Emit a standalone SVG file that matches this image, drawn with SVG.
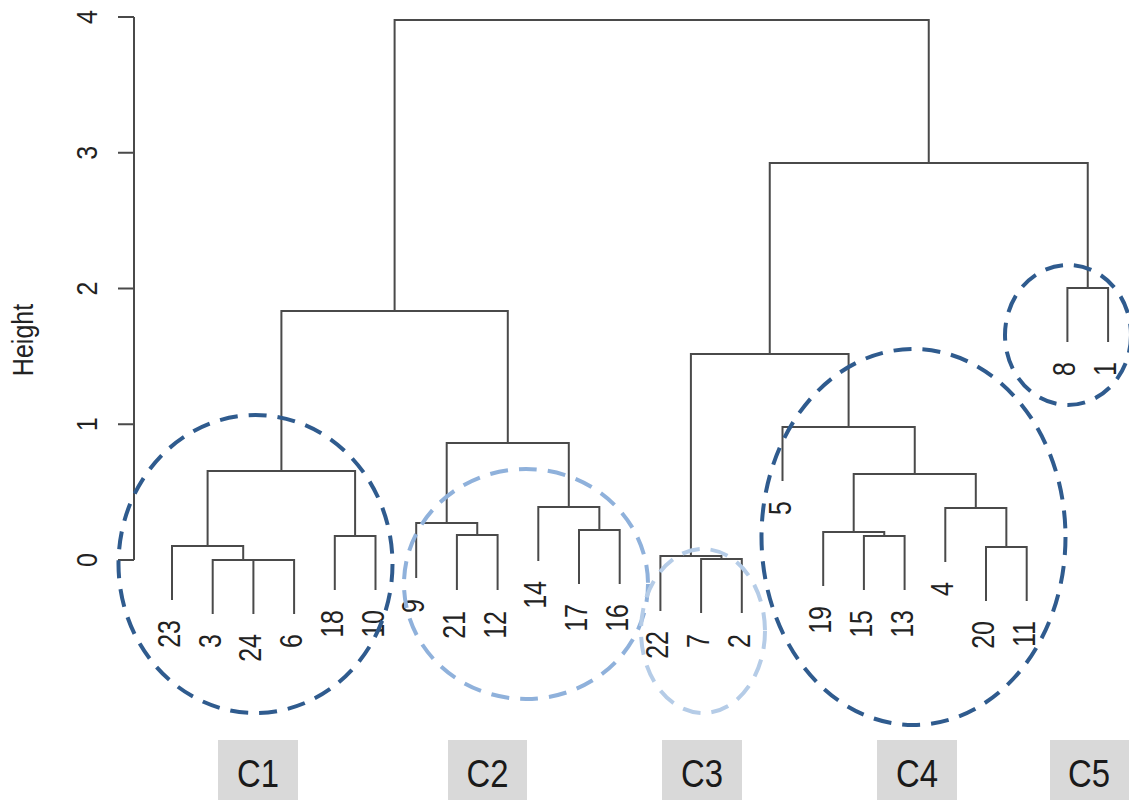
<svg xmlns="http://www.w3.org/2000/svg" width="1129" height="800" viewBox="0 0 1129 800">
  <style>
    .tree { fill: none; stroke: #4a4a4a; stroke-width: 2; }
    .axis { fill: none; stroke: #4a4a4a; stroke-width: 2; }
    .lbl { font-family: "Liberation Sans", Arial, sans-serif; font-size: 25px; fill: #222; text-anchor: end; }
    .tick { font-family: "Liberation Sans", Arial, sans-serif; font-size: 25px; fill: #222; text-anchor: middle; }
    .ring { fill: none; stroke-width: 4; stroke-dasharray: 18 11; }
    .dark { stroke: #2f5b8e; }
    .mid { stroke: #8fb1db; }
    .pale { stroke: #b5cce7; }
    .box { fill: #d9d9d9; }
    .cname { font-family: "Liberation Sans", Arial, sans-serif; font-size: 39px; fill: #1a1a1a; text-anchor: middle; }
  </style>

  <rect width="1129" height="800" fill="#ffffff"/>

  <!-- height axis; rotated labels are widened slightly across the baseline -->
  <g id="axis">
    <path class="axis" d="M134,17 V560 M118,17 H134 M118,152.75 H134 M118,288.5 H134 M118,424.25 H134 M118,560 H134"/>
    <text class="tick" transform="translate(97,17) scale(1.18,1) rotate(-90)">4</text>
    <text class="tick" transform="translate(97,152.75) scale(1.18,1) rotate(-90)">3</text>
    <text class="tick" transform="translate(97,288.5) scale(1.18,1) rotate(-90)">2</text>
    <text class="tick" transform="translate(97,424.25) scale(1.18,1) rotate(-90)">1</text>
    <text class="tick" transform="translate(97,560) scale(1.18,1) rotate(-90)">0</text>
    <text class="tick" transform="translate(33,340) scale(1.15,1) rotate(-90)">Height</text>
  </g>

  <!-- dendrogram branches -->
  <g id="connectors">
    <path class="tree" d="
      M212.7,614 V560 H294.1 V614 M253.4,560 V614
      M172,600 V546 H243.2 V560
      M334.8,590 V536 H375.5 V590
      M207.6,546 V471 H355.1 V536
      M456.9,590 V535 H497.6 V590
      M416.2,578 V523 H477.25 V535
      M579,584 V530 H619.7 V584
      M538.3,561 V507 H599.35 V530
      M446.7,523 V443 H568.8 V507
      M281.4,471 V311 H507.8 V443
      M701.1,613 V559 H741.8 V613
      M660.4,611 V556 H721.45 V559
      M863.9,590 V536 H904.6 V590
      M823.2,586 V532 H884.25 V536
      M986,601 V547 H1026.7 V601
      M945.3,562 V508 H1006.35 V547
      M853.7,532 V474 H975.8 V508
      M782.5,481 V427 H914.75 V474
      M690.9,556 V354 H848.6 V427
      M1067.4,342 V288 H1108.1 V342
      M769.75,354 V163 H1087.75 V288
      M394.6,311 V20 H928.75 V163"/>
  </g>

  <!-- leaf labels -->
  <g id="leaves-c1">
    <text class="lbl" transform="translate(180,620) scale(1.22,1) rotate(-90)">23</text>
    <text class="lbl" transform="translate(220.7,634) scale(1.22,1) rotate(-90)">3</text>
    <text class="lbl" transform="translate(261.4,634) scale(1.22,1) rotate(-90)">24</text>
    <text class="lbl" transform="translate(302.1,634) scale(1.22,1) rotate(-90)">6</text>
    <text class="lbl" transform="translate(342.8,610) scale(1.22,1) rotate(-90)">18</text>
    <text class="lbl" transform="translate(383.5,610) scale(1.22,1) rotate(-90)">10</text>
  </g>
  <g id="leaves-c2">
    <text class="lbl" transform="translate(424.2,599) scale(1.22,1) rotate(-90)">9</text>
    <text class="lbl" transform="translate(464.9,611) scale(1.22,1) rotate(-90)">21</text>
    <text class="lbl" transform="translate(505.6,611) scale(1.22,1) rotate(-90)">12</text>
    <text class="lbl" transform="translate(546.3,581) scale(1.22,1) rotate(-90)">14</text>
    <text class="lbl" transform="translate(587,604) scale(1.22,1) rotate(-90)">17</text>
    <text class="lbl" transform="translate(627.7,604) scale(1.22,1) rotate(-90)">16</text>
  </g>
  <g id="leaves-c3">
    <text class="lbl" transform="translate(668.4,631) scale(1.22,1) rotate(-90)">22</text>
    <text class="lbl" transform="translate(709.1,634) scale(1.22,1) rotate(-90)">7</text>
    <text class="lbl" transform="translate(749.8,634) scale(1.22,1) rotate(-90)">2</text>
  </g>
  <g id="leaves-c4">
    <text class="lbl" transform="translate(790.5,501) scale(1.22,1) rotate(-90)">5</text>
    <text class="lbl" transform="translate(831.2,606) scale(1.22,1) rotate(-90)">19</text>
    <text class="lbl" transform="translate(871.9,610) scale(1.22,1) rotate(-90)">15</text>
    <text class="lbl" transform="translate(912.6,610) scale(1.22,1) rotate(-90)">13</text>
    <text class="lbl" transform="translate(953.3,582) scale(1.22,1) rotate(-90)">4</text>
    <text class="lbl" transform="translate(994,621) scale(1.22,1) rotate(-90)">20</text>
    <text class="lbl" transform="translate(1034.7,621) scale(1.22,1) rotate(-90)">11</text>
  </g>
  <g id="leaves-c5">
    <text class="lbl" transform="translate(1075.4,362) scale(1.22,1) rotate(-90)">8</text>
    <text class="lbl" transform="translate(1116.1,362) scale(1.22,1) rotate(-90)">1</text>
  </g>

  <!-- dashed cluster outlines -->
  <g id="cluster-c1"><ellipse class="ring dark" cx="255.5" cy="564" rx="137" ry="149"/></g>
  <g id="cluster-c2"><ellipse class="ring mid" cx="526" cy="584" rx="122" ry="115"/></g>
  <g id="cluster-c3"><ellipse class="ring pale" cx="703" cy="631" rx="62" ry="82"/></g>
  <g id="cluster-c4"><ellipse class="ring dark" cx="913.5" cy="537" rx="152" ry="188"/></g>
  <g id="cluster-c5"><ellipse class="ring dark" cx="1068" cy="335" rx="63" ry="70"/></g>

  <!-- cluster name tags -->
  <g id="tag-c1"><rect class="box" x="218" y="740" width="80" height="60"/><text class="cname" x="258" y="787" textLength="42" lengthAdjust="spacingAndGlyphs">C1</text></g>
  <g id="tag-c2"><rect class="box" x="448" y="740" width="79" height="60"/><text class="cname" x="487.5" y="787" textLength="42" lengthAdjust="spacingAndGlyphs">C2</text></g>
  <g id="tag-c3"><rect class="box" x="662" y="740" width="80" height="60"/><text class="cname" x="702" y="787" textLength="42" lengthAdjust="spacingAndGlyphs">C3</text></g>
  <g id="tag-c4"><rect class="box" x="877" y="740" width="80" height="60"/><text class="cname" x="917" y="787" textLength="42" lengthAdjust="spacingAndGlyphs">C4</text></g>
  <g id="tag-c5"><rect class="box" x="1050" y="740" width="80" height="60"/><text class="cname" x="1089" y="787" textLength="42" lengthAdjust="spacingAndGlyphs">C5</text></g>
</svg>
